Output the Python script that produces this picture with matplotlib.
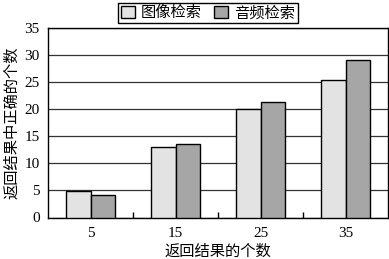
import matplotlib.pyplot as plt
import numpy as np

plt.rcParams['font.family'] = ['Liberation Serif', 'Noto Sans CJK SC']

categories = ['5', '15', '25', '35']
image_search = [4.9, 13.0, 20.0, 25.4]
audio_search = [4.2, 13.5, 21.3, 29.0]
series_names = ['图像检索', '音频检索']
yticks = [0, 5, 10, 15, 20, 25, 30, 35]

x = np.arange(len(categories))
w = 0.287

fig = plt.figure(figsize=(3.89, 2.59), dpi=100)
ax = fig.add_axes([48 / 389, 1 - 217.5 / 259, 340 / 389, 189.5 / 259])

ax.bar(x - w / 2, image_search, w, color='#e3e3e3', edgecolor='black', linewidth=1, label=series_names[0], zorder=3)
ax.bar(x + w / 2, audio_search, w, color='#a6a6a6', edgecolor='black', linewidth=1, label=series_names[1], zorder=3)

ax.set_xlim(-0.5, len(categories) - 0.5)
ax.set_ylim(0, 35)
ax.set_yticks(yticks)
ax.set_xticks(x)
ax.set_xticklabels(categories)
ax.set_xticks(np.arange(len(categories) - 1) + 0.5, minor=True)
ax.tick_params(axis='x', which='major', length=0, labelsize=11, pad=7)
ax.tick_params(axis='x', which='minor', direction='in', length=4, width=1)
ax.tick_params(axis='y', length=0, labelsize=11, pad=6)
ax.yaxis.grid(True, color='#333333', linewidth=0.9, zorder=0)
for s in ax.spines.values():
    s.set_linewidth(1)

ax.set_xlabel('返回结果的个数', fontsize=11, labelpad=3)
ax.set_ylabel('返回结果中正确的个数', fontsize=11, labelpad=4)

ax.legend(loc='lower center', bbox_to_anchor=(0.47, 1.0), ncol=2, fontsize=11,
          frameon=True, fancybox=False, edgecolor='black', framealpha=1,
          handlelength=0.9, handleheight=0.9, handletextpad=0.4, columnspacing=0.8,
          borderpad=0.2, borderaxespad=0.3)

fig.savefig('out.png', dpi=100)
